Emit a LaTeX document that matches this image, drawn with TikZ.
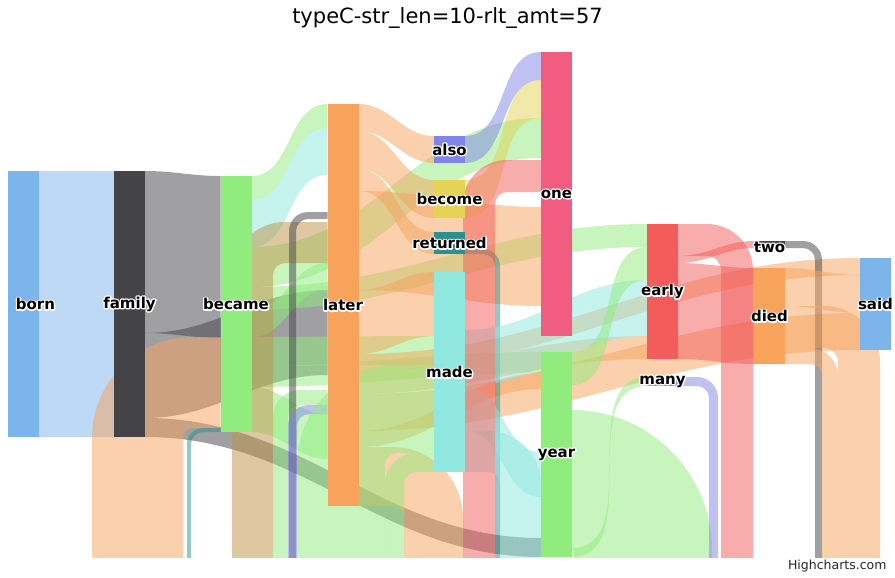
\documentclass[tikz,border=0pt]{standalone}
\usepackage{fontspec}
\setmainfont{DejaVu Sans}
\usetikzlibrary{calc}
\pgfdeclarelayer{bg}
\pgfsetlayers{bg,main}

\definecolor{cBlue}{HTML}{7CB5EC}
\definecolor{cBlack}{HTML}{434348}
\definecolor{cGreen}{HTML}{90ED7D}
\definecolor{cOrange}{HTML}{F7A35C}
\definecolor{cPurple}{HTML}{8085E9}
\definecolor{cPink}{HTML}{F15C80}
\definecolor{cYellow}{HTML}{E4D354}
\definecolor{cTeal}{HTML}{2B908F}
\definecolor{cRed}{HTML}{F45B5B}
\definecolor{cCyan}{HTML}{91E8E1}
\definecolor{cTan}{HTML}{BF9347}

\tikzset{
  word/.style={rectangle, minimum width=31pt, inner sep=0pt, outer sep=0pt},
  lbl/.style={font=\fontsize{15}{16}\selectfont\bfseries, inner sep=0pt},
}

% ribbon from the right side of one word to the left side of another
\newcommand\ribbon[7]{%
  \fill[#1, fill opacity=.5] (#2.east |- 0,#3) to[out=0,in=180] (#5.west |- 0,#6)
    -- (#5.west |- 0,#7) to[out=180,in=0] (#2.east |- 0,#4) -- cycle;}
% link going back: leg going down on the right of its word
\newcommand\drop[7]{%
  \pgfmathsetmacro\legR{#4-#3+#7}%
  \fill[#1, fill opacity=.5] (#2.east |- 0,#3) -- ({#6-\legR},#3)
    .. controls ({#6-0.448*\legR},#3) and (#6,{#3+0.448*\legR}) .. (#6,{#3+\legR})
    -- (#6,0 |- floor) -- (#5,0 |- floor) -- (#5,{#4+#7})
    .. controls (#5,{#4+0.448*#7}) and ({#5-0.448*#7},#4) .. ({#5-#7},#4)
    -- (#2.east |- 0,#4) -- cycle;}
% link going back: leg coming up on the left of its word
\newcommand\rise[7]{%
  \pgfmathsetmacro\legR{#4-#3+#7}%
  \fill[#1, fill opacity=.5] (#5,0 |- floor) -- (#5,{#3+\legR})
    .. controls (#5,{#3+0.448*\legR}) and ({#5+0.448*\legR},#3) .. ({#5+\legR},#3)
    -- (#2.west |- 0,#3) -- (#2.west |- 0,#4) -- ({#6+#7},#4)
    .. controls ({#6+0.448*#7},#4) and (#6,{#4+0.448*#7}) .. (#6,{#4+#7})
    -- (#6,0 |- floor) -- cycle;}
% label with a white outline
\newcommand\wordlabel[3]{%
  \node[lbl, text=white] at #2 {\special{pdf:code 1 1 1 RG 1 j 2.8 w 1 Tr}#3\special{pdf:code 0 Tr}};
  \node[lbl] (#1) at #2 {#3};}

\begin{document}
\begin{tikzpicture}[x=1pt, y=-1pt]
\useasboundingbox (0,0) rectangle (895,578);
\coordinate (floor) at (0,570);

% words
\node[word, fill=cBlue,   minimum height=266pt] (born)     at (23.5,304)   {};
\node[word, fill=cBlack,  minimum height=266pt] (family)   at (129.5,304)  {};
\node[word, fill=cGreen,  minimum height=256pt] (became)   at (236,304)    {};
\node[word, fill=cOrange, minimum height=402pt] (later)    at (343,305)    {};
\node[word, fill=cPurple, minimum height=27pt]  (also)     at (449.5,149.5){};
\node[word, fill=cYellow, minimum height=38pt]  (become)   at (449.5,199)  {};
\node[word, fill=cTeal,   minimum height=22pt]  (returned) at (449.5,243)  {};
\node[word, fill=cCyan,   minimum height=200pt] (made)     at (449.5,372)  {};
\node[word, fill=cPink,   minimum height=284pt] (one)      at (556.5,194)  {};
\node[word, fill=cGreen,  minimum height=205pt] (year)     at (556.5,454.5){};
\node[word, fill=cRed,    minimum height=135pt] (early)    at (662.5,291.5){};
\node[word, fill=cPurple, minimum height=9pt]   (many)     at (662.5,381.5){};
\node[word, fill=cBlack,  minimum height=7pt]   (two)      at (769.5,244.5){};
\node[word, fill=cOrange, minimum height=96pt]  (died)     at (769.5,316)  {};
\node[word, fill=cBlue,   minimum height=92pt]  (said)     at (875.5,304)  {};

\begin{pgfonlayer}{bg}
\fill[white] (0,0) rectangle (895,578);
\clip (0,0) rectangle (895,557);
\ribbon{cBlue}{born}{171}{437}{family}{171}{437}
\ribbon{cBlack}{family}{171}{333}{became}{176}{338}
\ribbon{cBlack}{family}{333}{418}{later}{290}{375}
\ribbon{cBlack}{family}{418}{437}{year}{538}{557}
\ribbon{cGreen}{became}{176}{200}{later}{104}{128}
\ribbon{cCyan}{became}{200}{247}{later}{128}{175}
\ribbon{cGreen}{became}{247}{287}{one}{118}{158}
\ribbon{cGreen}{became}{287}{310}{early}{224}{247}
\ribbon{cGreen}{became}{310}{337}{later}{263}{290}
\ribbon{cGreen}{became}{337}{366}{made}{336}{365}
\ribbon{cGreen}{became}{366}{387}{year}{352}{373}
\ribbon{cGreen}{became}{387}{432}{later}{414}{459}
\ribbon{cOrange}{later}{104}{131}{also}{136}{163}
\ribbon{cOrange}{later}{131}{169}{become}{180}{218}
\ribbon{cOrange}{later}{169}{191}{returned}{232}{254}
\ribbon{cOrange}{later}{191}{290}{one}{207}{306}
\ribbon{cOrange}{later}{290}{354}{made}{272}{336}
\ribbon{cOrange}{later}{354}{371}{said}{258}{275}
\ribbon{cOrange}{later}{371}{394}{early}{336}{359}
\ribbon{cOrange}{later}{394}{431}{said}{313}{350}
\ribbon{cOrange}{later}{431}{447}{year}{373}{389}
\drop{cOrange}{later}{447}{506}{404}{463}{12}
\ribbon{cPurple}{also}{136}{163}{one}{52}{80}
\ribbon{cYellow}{become}{180}{218}{one}{80}{118}
\drop{cTeal}{returned}{249}{254}{495}{500}{12}
\ribbon{cCyan}{made}{330}{386}{early}{280}{336}
\ribbon{cCyan}{made}{386}{431}{year}{452}{497}
\drop{cCyan}{made}{431}{472}{500}{541}{12}
\ribbon{cGreen}{year}{352}{385}{early}{247}{280}
\drop{cGreen}{year}{410}{548}{574}{712}{2}
\ribbon{cGreen}{year}{548}{557}{many}{377}{386}
\drop{cRed}{early}{224}{256}{721}{753}{14}
\ribbon{cRed}{early}{256}{263}{two}{241}{248}
\ribbon{cRed}{early}{263}{359}{died}{268}{364}
\drop{cPurple}{many}{377}{386}{709}{718}{12}
\drop{cBlack}{two}{241}{248}{815}{822}{12}
\ribbon{cOrange}{died}{268}{306}{said}{275}{313}
\drop{cOrange}{died}{306}{348}{838}{880}{14}
\drop{cOrange}{died}{348}{364}{822}{838}{12}
\rise{cOrange}{became}{337}{428}{92}{183}{10}
\rise{cTeal}{became}{428}{432}{187}{191}{12}
\rise{cTan}{later}{222}{263}{232}{273}{12}
\rise{cGreen}{later}{390}{405}{273}{288}{12}
\rise{cBlack}{later}{212}{219}{289}{296}{12}
\rise{cPurple}{later}{405}{414}{288}{297}{12}
\rise{cGreen}{made}{365}{453}{297}{385}{12}
\rise{cGreen}{made}{453}{472}{385}{404}{12}
\rise{cRed}{one}{160}{192}{463}{495}{12}
\end{pgfonlayer}

% labels
\wordlabel{born-t}{(35.5,304)}{born}
\wordlabel{family-t}{(family)}{family}
\wordlabel{became-t}{(became)}{became}
\wordlabel{later-t}{(later)}{later}
\wordlabel{also-t}{(also)}{also}
\wordlabel{become-t}{(become)}{become}
\wordlabel{returned-t}{(returned)}{returned}
\wordlabel{made-t}{(made)}{made}
\wordlabel{one-t}{(one)}{one}
\wordlabel{year-t}{(year)}{year}
\wordlabel{early-t}{(early)}{early}
\wordlabel{many-t}{(many)}{many}
\wordlabel{two-t}{(769.5,247)}{two}
\wordlabel{died-t}{(died)}{died}
\wordlabel{said-t}{(said)}{said}

\node[font=\fontsize{21}{25}\selectfont] (title) at (447.5,18) {typeC-str\_len=10-rlt\_amt=57};
\node[font=\fontsize{12.5}{14}\selectfont, text=black!85, anchor=east] (credit) at (890,566) {Highcharts.com};
\end{tikzpicture}
\end{document}
